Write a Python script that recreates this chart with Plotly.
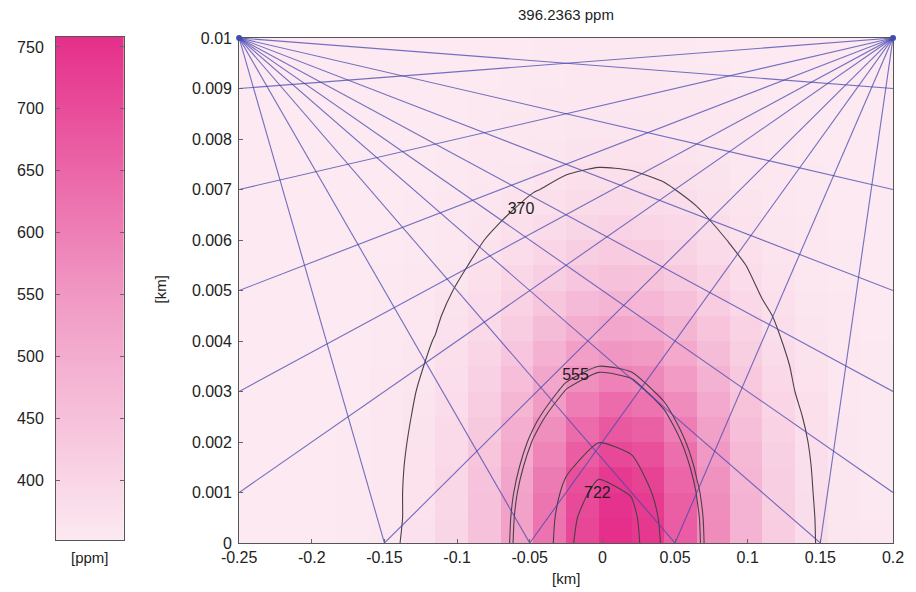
import plotly.graph_objects as go

# ---------------- data ----------------
title_text = "396.2363 ppm"
x_nodes = [-0.25, -0.2275, -0.205, -0.1825, -0.16, -0.1375, -0.115, -0.0925, -0.07, -0.0475,
           -0.025, -0.0025, 0.02, 0.0425, 0.065, 0.0875, 0.11, 0.1325, 0.155, 0.1775, 0.2]
y_nodes = [0, 0.0005, 0.001, 0.0015, 0.002, 0.0025, 0.003, 0.0035, 0.004, 0.0045, 0.005,
           0.0055, 0.006, 0.0065, 0.007, 0.0075, 0.008, 0.0085, 0.009, 0.0095, 0.01]
# concentration [ppm] at grid nodes, rows = y_nodes, columns = x_nodes
conc = [
    [352, 352, 352, 354, 358, 371, 398, 449, 529, 624, 711, 758, 740, 669, 575, 485, 420, 382, 363, 356, 353],
    [352, 352, 352, 354, 358, 370, 397, 448, 526, 620, 706, 752, 735, 664, 572, 483, 419, 381, 363, 355, 353],
    [352, 352, 352, 354, 358, 370, 395, 444, 519, 609, 692, 736, 719, 651, 563, 478, 416, 380, 362, 355, 353],
    [352, 352, 352, 354, 358, 369, 392, 438, 507, 591, 668, 709, 693, 631, 548, 469, 412, 378, 362, 355, 353],
    [352, 352, 352, 354, 357, 367, 389, 430, 493, 569, 638, 676, 661, 604, 530, 458, 406, 376, 361, 355, 353],
    [352, 352, 352, 353, 357, 365, 384, 420, 476, 543, 604, 637, 624, 574, 508, 446, 400, 373, 360, 354, 353],
    [352, 352, 352, 353, 356, 363, 380, 410, 458, 515, 568, 596, 585, 542, 486, 432, 393, 370, 359, 354, 353],
    [352, 352, 352, 353, 355, 361, 375, 401, 440, 488, 532, 555, 546, 510, 463, 419, 386, 367, 358, 354, 352],
    [352, 352, 352, 353, 355, 360, 371, 391, 423, 462, 497, 516, 509, 480, 442, 406, 379, 364, 356, 353, 352],
    [352, 352, 352, 353, 354, 358, 367, 383, 408, 438, 466, 481, 475, 452, 423, 394, 374, 361, 356, 353, 352],
    [352, 352, 352, 352, 354, 357, 363, 376, 395, 418, 439, 450, 446, 429, 406, 384, 368, 359, 355, 353, 352],
    [352, 352, 352, 352, 353, 355, 360, 370, 384, 401, 417, 425, 422, 409, 392, 376, 364, 357, 354, 353, 352],
    [352, 352, 352, 352, 353, 354, 358, 365, 375, 387, 399, 405, 402, 393, 381, 369, 361, 356, 353, 352, 352],
    [352, 352, 352, 352, 353, 354, 356, 361, 368, 377, 385, 389, 387, 381, 372, 364, 358, 355, 353, 352, 352],
    [352, 352, 352, 352, 352, 353, 355, 358, 363, 369, 374, 377, 376, 372, 366, 360, 356, 354, 353, 352, 352],
    [352, 352, 352, 352, 352, 353, 354, 356, 359, 363, 367, 369, 368, 365, 361, 358, 355, 353, 352, 352, 352],
    [352, 352, 352, 352, 352, 352, 353, 355, 357, 359, 362, 363, 362, 360, 358, 356, 354, 353, 352, 352, 352],
    [352, 352, 352, 352, 352, 352, 353, 354, 355, 357, 358, 359, 358, 357, 356, 354, 353, 352, 352, 352, 352],
    [352, 352, 352, 352, 352, 352, 352, 353, 354, 355, 356, 356, 356, 355, 354, 353, 353, 352, 352, 352, 352],
    [352, 352, 352, 352, 352, 352, 352, 352, 353, 354, 354, 354, 354, 354, 353, 353, 352, 352, 352, 352, 352],
    [352, 352, 352, 352, 352, 352, 352, 352, 353, 353, 353, 353, 353, 353, 353, 352, 352, 352, 352, 352, 352],
]
contour_levels = [370, 555, 565, 677, 722]
label_text = ["370", "555", "722"]
label_x = [-0.056, -0.0185, -0.0034]
label_y = [0.0066, 0.0033, 0.00097]

# beam geometry: two sources at the top corners
source_x = [-0.25, 0.2]
source_y = [0.01, 0.01]
edge_y = [0.009, 0.007, 0.005, 0.003, 0.001]      # reflector heights on opposite edge
ground_x = [-0.15, -0.05, 0.05, 0.15]             # reflectors on the ground

x_ticks = [-0.25, -0.2, -0.15, -0.1, -0.05, 0, 0.05, 0.1, 0.15, 0.2]
x_ticktext = ["-0.25", "-0.2", "-0.15", "-0.1", "-0.05", "0", "0.05", "0.1", "0.15", "0.2"]
y_ticks = [0, 0.001, 0.002, 0.003, 0.004, 0.005, 0.006, 0.007, 0.008, 0.009, 0.01]
y_ticktext = ["0", "0.001", "0.002", "0.003", "0.004", "0.005", "0.006", "0.007", "0.008", "0.009", "0.01"]
cmin, cmax = 352, 758
cbar_ticks = [400, 450, 500, 550, 600, 650, 700, 750]

# ---------------- styling ----------------
colorscale = [[0, "#fce9f1"], [0.5, "#f096c2"], [1, "#e52f8a"]]
FONT = "Liberation Sans, Arial, Helvetica, sans-serif"
TXT = "#222222"
W, H = 916, 592
ML, MR, MT, MB = 56, 19, 37, 49
PW, PH = W - ML - MR, H - MT - MB


def px_x(p):
    return (p - ML) / PW


def px_y(p):
    return (H - MB - p) / PH


fig = go.Figure()

# pcolor-style cells: each cell coloured by its lower-left node
cells = [row[:-1] for row in conc[:-1]]
fig.add_trace(go.Heatmap(
    x=x_nodes, y=y_nodes, z=cells, zmin=cmin, zmax=cmax,
    colorscale=colorscale, showscale=False, hoverinfo="skip",
    xaxis="x", yaxis="y"))

for lv in contour_levels:
    fig.add_trace(go.Contour(
        x=x_nodes, y=y_nodes, z=conc, autocontour=False,
        contours=dict(start=lv, end=lv, size=1, coloring="none", showlabels=False),
        line=dict(color="#4a4048", width=1.1, smoothing=0.6),
        showscale=False, hoverinfo="skip", xaxis="x", yaxis="y"))

# beams
bx, by = [], []
for sx, sy in zip(source_x, source_y):
    other_x = source_x[1] if sx == source_x[0] else source_x[0]
    for ey in edge_y:
        bx += [sx, other_x, None]
        by += [sy, ey, None]
    for gx in ground_x:
        bx += [sx, gx, None]
        by += [sy, 0, None]
fig.add_trace(go.Scatter(x=bx, y=by, mode="lines",
                         line=dict(color="rgba(70,70,175,0.75)", width=1.1),
                         hoverinfo="skip", xaxis="x", yaxis="y", cliponaxis=False))
fig.add_trace(go.Scatter(x=source_x, y=source_y, mode="markers",
                         marker=dict(color="#3a48d0", size=6),
                         hoverinfo="skip", xaxis="x", yaxis="y", cliponaxis=False))

# contour labels
fig.add_trace(go.Scatter(x=label_x, y=label_y, mode="text", text=label_text,
                         textfont=dict(family=FONT, size=16, color="#1e1e1e"),
                         textposition="middle center", hoverinfo="skip",
                         xaxis="x", yaxis="y"))

# colour bar panel
cb_vals = list(range(cmin, cmax + 1, 2))
fig.add_trace(go.Heatmap(
    x=[0, 1], y=cb_vals, z=[[v] for v in cb_vals], zmin=cmin, zmax=cmax,
    colorscale=colorscale, showscale=False, hoverinfo="skip",
    xaxis="x2", yaxis="y2"))

axis_common = dict(showgrid=False, zeroline=False, showline=True, linecolor="#555",
                   linewidth=1, ticks="inside", ticklen=4, tickcolor="#666",
                   tickfont=dict(family=FONT, size=16, color=TXT))

fig.update_layout(
    width=W, height=H,
    margin=dict(l=ML, r=MR, t=MT, b=MB),
    paper_bgcolor="white", plot_bgcolor="white",
    showlegend=False,
    xaxis=dict(domain=[px_x(240), 1], range=[-0.25, 0.2], tickvals=x_ticks,
               ticktext=x_ticktext, anchor="y", mirror=True, **axis_common),
    yaxis=dict(domain=[0, px_y(38)], range=[0, 0.01], tickvals=y_ticks,
               ticktext=y_ticktext, anchor="x", mirror=True, ticklabelstandoff=3,
               **axis_common),
    xaxis2=dict(domain=[px_x(56), px_x(124)], range=[0, 1], showticklabels=False,
                showgrid=False, zeroline=False, showline=True, linecolor="#555",
                mirror=True, ticks="", anchor="y2"),
    yaxis2=dict(domain=[px_y(540), px_y(37)], range=[cmin, cmax], tickvals=cbar_ticks,
                anchor="x2", mirror="ticks", ticklabelstandoff=8, **axis_common),
    annotations=[
        dict(text=title_text, x=px_x(568), y=px_y(14), xref="paper", yref="paper",
             xanchor="center", yanchor="middle", showarrow=False,
             font=dict(family=FONT, size=15, color=TXT)),
        dict(text="[km]", x=px_x(568), y=px_y(578), xref="paper", yref="paper",
             xanchor="center", yanchor="middle", showarrow=False,
             font=dict(family=FONT, size=15, color=TXT)),
        dict(text="[km]", x=px_x(160), y=px_y(290), xref="paper", yref="paper",
             xanchor="center", yanchor="middle", showarrow=False, textangle=-90,
             font=dict(family=FONT, size=15, color=TXT)),
        dict(text="[ppm]", x=px_x(90), y=px_y(557), xref="paper", yref="paper",
             xanchor="center", yanchor="middle", showarrow=False,
             font=dict(family=FONT, size=15, color=TXT)),
    ],
)

fig.write_html("out.html")
